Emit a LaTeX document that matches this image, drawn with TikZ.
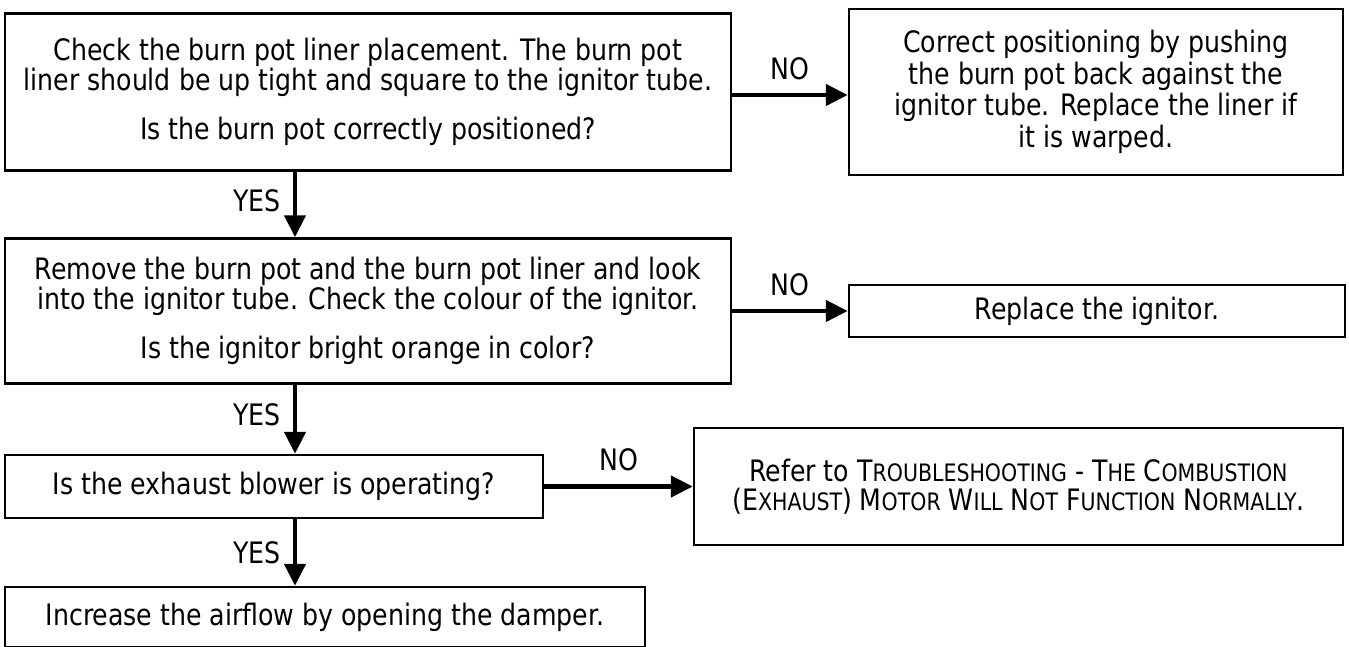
\documentclass[tikz,border=0pt]{standalone}
\usepackage{fontspec}
\setmainfont{DejaVu Sans Condensed}[FakeStretch=0.95]
\usetikzlibrary{arrows.meta}
% fake small caps
\newcommand{\smc}[1]{{\fontsize{24}{24}\selectfont #1}}

\begin{document}
\begin{tikzpicture}[x=1pt, y=-1pt,
  box/.style={draw, line width=2.5pt, align=center, inner sep=0pt,
    font=\fontsize{29.5}{28.5}\selectfont},
  arr/.style={line width=4.5pt, -{Triangle[length=22pt,width=21pt]}},
  lbl/.style={font=\fontsize{29.5}{30}\selectfont, inner sep=0pt}]
  \clip (0,0) rectangle (1349,646);

  % Left column: checks
  \node[box, minimum width=726pt, minimum height=157pt] (placement) at (368,92)
    {Check the burn pot liner placement. The burn pot\\
     liner should be up tight and square to the ignitor tube.\\[20pt]
     Is the burn pot correctly positioned?};
  \node[box, minimum width=726pt, minimum height=145pt] (ignitor) at (368,311)
    {Remove the burn pot and the burn pot liner and look\\
     into the ignitor tube. Check the colour of the ignitor.\\[20pt]
     Is the ignitor bright orange in color?};
  \node[box, minimum width=538pt, minimum height=63pt] (blower) at (274,486.5)
    {Is the exhaust blower is operating?};
  \node[box, minimum width=640pt, minimum height=60pt] (damper) at (325,617)
    {Increase the airflow by opening the damper.};

  % Right column: fixes
  \node[box, minimum width=494pt, minimum height=166pt,
    font=\fontsize{29.5}{31.5}\selectfont] (pushback) at (1096,92)
    {Correct positioning by pushing\\ the burn pot back against the\\
     ignitor tube. Replace the liner if\\ it is warped.};
  \node[box, minimum width=496pt, minimum height=52pt] (replace) at (1097,311)
    {Replace the ignitor.};
  \node[box, minimum width=649pt, minimum height=117pt] (motor) at (1018.5,486.5)
    {Refer to T\smc{ROUBLESHOOTING} - T\smc{HE} C\smc{OMBUSTION}\\
     (E\smc{XHAUST}) M\smc{OTOR} W\smc{ILL} N\smc{OT} F\smc{UNCTION} N\smc{ORMALLY}.};

  % YES arrows
  \coordinate (spine) at (295,0);
  \draw[arr] (placement.south -| spine) -- node[lbl, left=12pt, yshift=4pt] {YES} (ignitor.north -| spine);
  \draw[arr] (ignitor.south -| spine) -- node[lbl, left=12pt, yshift=4pt] {YES} (blower.north -| spine);
  \draw[arr] (blower.south -| spine) -- node[lbl, left=12pt] {YES} (damper.north -| spine);

  % NO arrows
  \draw[arr] (placement.east |- 0,95) -- node[lbl, above=13pt] {NO} (pushback.west |- 0,95);
  \draw[arr] (ignitor.east) -- node[lbl, above=13pt] {NO} (ignitor.east -| replace.west);
  \draw[arr] (blower.east) -- node[lbl, above=13pt] {NO} (motor.west);
\end{tikzpicture}
\end{document}
